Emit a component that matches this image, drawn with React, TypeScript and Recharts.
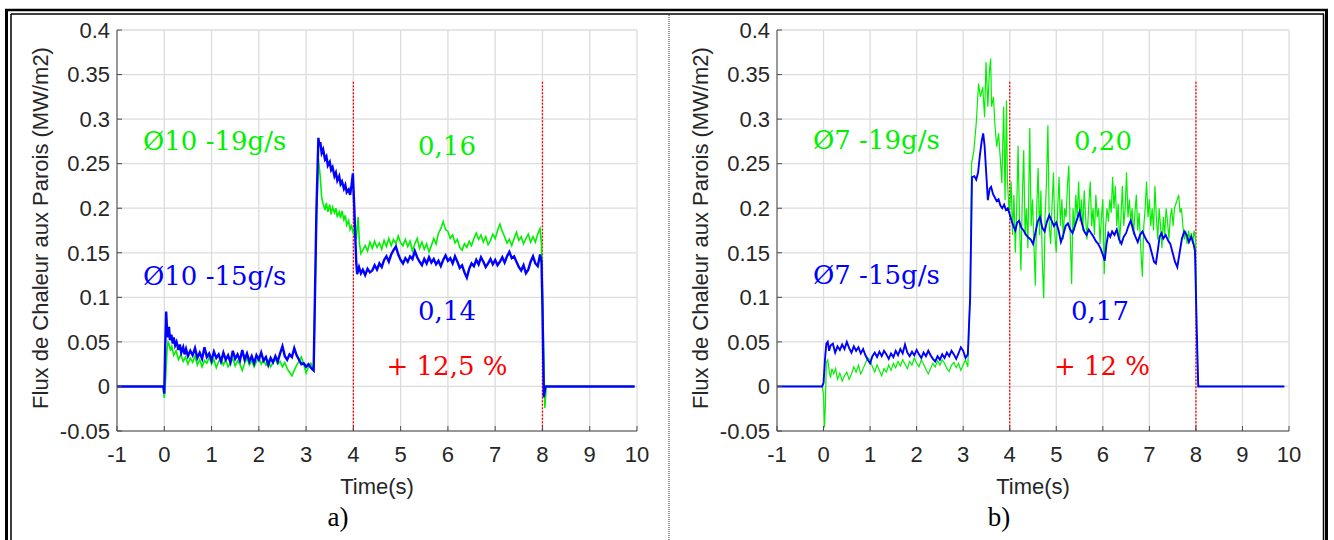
import { LineChart, Line, XAxis, YAxis, CartesianGrid, ReferenceLine } from 'recharts';

type Pt = [number, number];

const xTicks = [-1, 0, 1, 2, 3, 4, 5, 6, 7, 8, 9, 10];
const yTicks = [-0.05, 0, 0.05, 0.1, 0.15, 0.2, 0.25, 0.3, 0.35, 0.4];
const markerTimes = [4, 8];
const markerTop = 0.342;

// a) Ø10 - 19 g/s (green)
const panelAGreen: Pt[] = [
  [-1, 0], [-0.02, 0], [0, -0.013], [0.03, 0.01], [0.06, 0.042], [0.08, 0.05], [0.1, 0.048],
  [0.13, 0.04], [0.16, 0.045], [0.2, 0.035], [0.25, 0.04], [0.3, 0.03], [0.35, 0.036], [0.4, 0.028],
  [0.45, 0.033], [0.5, 0.025], [0.55, 0.032], [0.6, 0.027], [0.65, 0.034], [0.7, 0.024], [0.75, 0.03],
  [0.8, 0.022], [0.85, 0.029], [0.9, 0.026], [0.95, 0.033], [1.0, 0.025], [1.05, 0.03], [1.1, 0.021],
  [1.15, 0.028], [1.2, 0.032], [1.25, 0.024], [1.3, 0.03], [1.35, 0.022], [1.4, 0.027], [1.45, 0.031],
  [1.5, 0.023], [1.55, 0.029], [1.6, 0.025], [1.65, 0.018], [1.7, 0.026], [1.75, 0.032], [1.8, 0.024],
  [1.85, 0.029], [1.9, 0.022], [1.95, 0.028], [2.0, 0.033], [2.05, 0.025], [2.1, 0.03], [2.15, 0.024],
  [2.2, 0.029], [2.25, 0.022], [2.3, 0.027], [2.35, 0.031], [2.4, 0.025], [2.45, 0.028], [2.5, 0.022],
  [2.55, 0.027], [2.6, 0.02], [2.65, 0.016], [2.7, 0.012], [2.75, 0.018], [2.8, 0.024], [2.85, 0.028],
  [2.9, 0.033], [2.95, 0.025], [3.0, 0.015], [3.05, 0.022], [3.1, 0.026], [3.16, 0.02], [3.22, 0.19],
  [3.26, 0.256], [3.3, 0.235], [3.33, 0.212], [3.36, 0.205], [3.4, 0.198], [3.43, 0.206], [3.46, 0.196],
  [3.5, 0.204], [3.53, 0.193], [3.56, 0.201], [3.6, 0.195], [3.63, 0.2], [3.66, 0.19], [3.7, 0.196],
  [3.73, 0.189], [3.76, 0.197], [3.8, 0.187], [3.83, 0.192], [3.86, 0.181], [3.9, 0.186], [3.93, 0.176],
  [3.96, 0.18], [4.0, 0.172], [4.03, 0.178], [4.06, 0.165], [4.1, 0.19], [4.13, 0.16], [4.16, 0.149],
  [4.2, 0.153], [4.25, 0.158], [4.3, 0.152], [4.35, 0.162], [4.4, 0.155], [4.45, 0.163], [4.5, 0.156],
  [4.55, 0.161], [4.6, 0.154], [4.65, 0.164], [4.7, 0.157], [4.75, 0.166], [4.8, 0.158], [4.85, 0.165],
  [4.9, 0.16], [4.95, 0.169], [5.0, 0.161], [5.05, 0.158], [5.1, 0.165], [5.15, 0.157], [5.2, 0.163],
  [5.25, 0.152], [5.3, 0.16], [5.35, 0.166], [5.4, 0.155], [5.45, 0.162], [5.5, 0.154], [5.55, 0.16],
  [5.6, 0.151], [5.65, 0.158], [5.7, 0.166], [5.75, 0.16], [5.8, 0.172], [5.85, 0.177], [5.9, 0.185],
  [5.95, 0.176], [6.0, 0.174], [6.05, 0.166], [6.1, 0.17], [6.15, 0.161], [6.2, 0.165], [6.25, 0.156],
  [6.3, 0.153], [6.35, 0.16], [6.4, 0.156], [6.45, 0.163], [6.5, 0.158], [6.55, 0.166], [6.6, 0.172],
  [6.65, 0.165], [6.7, 0.17], [6.75, 0.162], [6.8, 0.168], [6.85, 0.159], [6.9, 0.164], [6.95, 0.171],
  [7.0, 0.166], [7.05, 0.175], [7.1, 0.182], [7.15, 0.174], [7.2, 0.168], [7.25, 0.161], [7.3, 0.165],
  [7.35, 0.158], [7.4, 0.166], [7.45, 0.173], [7.5, 0.164], [7.55, 0.168], [7.6, 0.16], [7.65, 0.166],
  [7.7, 0.171], [7.75, 0.162], [7.8, 0.168], [7.85, 0.162], [7.9, 0.171], [7.95, 0.177], [7.98, 0.16],
  [8.02, 0.05], [8.05, -0.024], [8.08, 0], [9.95, 0],
];

// a) Ø10 - 15 g/s (blue)
const panelABlue: Pt[] = [
  [-1, 0], [-0.02, 0], [0, -0.008], [0.02, 0.045], [0.04, 0.084], [0.06, 0.062], [0.08, 0.055],
  [0.1, 0.067], [0.12, 0.052], [0.15, 0.058], [0.18, 0.048], [0.2, 0.055], [0.23, 0.046], [0.26, 0.05],
  [0.3, 0.041], [0.33, 0.047], [0.36, 0.038], [0.4, 0.044], [0.43, 0.036], [0.46, 0.042], [0.5, 0.034],
  [0.55, 0.04], [0.6, 0.035], [0.65, 0.043], [0.7, 0.032], [0.75, 0.038], [0.8, 0.031], [0.85, 0.044],
  [0.9, 0.033], [0.95, 0.037], [1.0, 0.029], [1.05, 0.039], [1.1, 0.032], [1.15, 0.036], [1.2, 0.028],
  [1.25, 0.038], [1.3, 0.03], [1.35, 0.035], [1.4, 0.027], [1.45, 0.04], [1.5, 0.031], [1.55, 0.036],
  [1.6, 0.029], [1.65, 0.041], [1.7, 0.03], [1.75, 0.037], [1.8, 0.028], [1.85, 0.034], [1.9, 0.026],
  [1.95, 0.035], [2.0, 0.03], [2.05, 0.038], [2.1, 0.029], [2.15, 0.033], [2.2, 0.024], [2.25, 0.032],
  [2.3, 0.027], [2.35, 0.034], [2.4, 0.028], [2.45, 0.037], [2.5, 0.045], [2.55, 0.034], [2.6, 0.03],
  [2.65, 0.036], [2.7, 0.033], [2.75, 0.043], [2.8, 0.035], [2.85, 0.03], [2.9, 0.025], [2.95, 0.026],
  [3.0, 0.022], [3.05, 0.025], [3.1, 0.021], [3.16, 0.018], [3.22, 0.2], [3.26, 0.279], [3.28, 0.27],
  [3.3, 0.274], [3.33, 0.262], [3.36, 0.266], [3.4, 0.255], [3.43, 0.258], [3.46, 0.248], [3.5, 0.252],
  [3.53, 0.243], [3.56, 0.246], [3.6, 0.236], [3.63, 0.24], [3.66, 0.231], [3.7, 0.236], [3.73, 0.227],
  [3.76, 0.23], [3.8, 0.222], [3.83, 0.226], [3.86, 0.218], [3.9, 0.221], [3.93, 0.215], [3.96, 0.225],
  [3.99, 0.239], [4.02, 0.2], [4.06, 0.14], [4.08, 0.126], [4.12, 0.134], [4.16, 0.127], [4.2, 0.131],
  [4.25, 0.125], [4.3, 0.132], [4.35, 0.128], [4.4, 0.13], [4.45, 0.136], [4.5, 0.131], [4.55, 0.138],
  [4.6, 0.134], [4.65, 0.142], [4.7, 0.146], [4.75, 0.14], [4.8, 0.148], [4.85, 0.153], [4.9, 0.157],
  [4.95, 0.148], [5.0, 0.142], [5.05, 0.138], [5.1, 0.144], [5.15, 0.14], [5.2, 0.146], [5.25, 0.143],
  [5.3, 0.152], [5.35, 0.145], [5.4, 0.14], [5.45, 0.136], [5.5, 0.143], [5.55, 0.138], [5.6, 0.145],
  [5.65, 0.139], [5.7, 0.143], [5.75, 0.137], [5.8, 0.141], [5.85, 0.135], [5.9, 0.142], [5.95, 0.147],
  [6.0, 0.141], [6.05, 0.144], [6.1, 0.138], [6.15, 0.146], [6.2, 0.14], [6.25, 0.133], [6.3, 0.136],
  [6.35, 0.128], [6.4, 0.122], [6.45, 0.132], [6.5, 0.138], [6.55, 0.135], [6.6, 0.142], [6.65, 0.137],
  [6.7, 0.145], [6.75, 0.14], [6.8, 0.134], [6.85, 0.138], [6.9, 0.143], [6.95, 0.137], [7.0, 0.142],
  [7.05, 0.136], [7.1, 0.14], [7.15, 0.145], [7.2, 0.139], [7.25, 0.146], [7.3, 0.151], [7.35, 0.144],
  [7.4, 0.146], [7.45, 0.14], [7.5, 0.134], [7.55, 0.13], [7.6, 0.136], [7.65, 0.127], [7.7, 0.131],
  [7.75, 0.14], [7.8, 0.146], [7.85, 0.138], [7.9, 0.135], [7.95, 0.148], [7.98, 0.14], [8.0, 0.09],
  [8.03, -0.012], [8.06, 0], [9.95, 0],
];

// b) Ø7 - 19 g/s (green)
const panelBGreen: Pt[] = [
  [-1, 0], [-0.03, 0], [0, -0.01], [0.02, -0.046], [0.04, -0.02], [0.06, 0.027], [0.09, 0.03],
  [0.12, 0.018], [0.15, 0.01], [0.18, 0.02], [0.22, 0.014], [0.26, 0.02], [0.3, 0.008], [0.35, 0.015],
  [0.4, 0.006], [0.45, 0.012], [0.5, 0.016], [0.55, 0.008], [0.6, 0.014], [0.65, 0.022], [0.7, 0.016],
  [0.75, 0.024], [0.8, 0.014], [0.85, 0.02], [0.9, 0.026], [0.95, 0.032], [1.0, 0.03], [1.05, 0.022],
  [1.1, 0.016], [1.15, 0.024], [1.2, 0.018], [1.25, 0.012], [1.3, 0.02], [1.35, 0.016], [1.4, 0.024],
  [1.45, 0.018], [1.5, 0.026], [1.55, 0.021], [1.6, 0.028], [1.65, 0.023], [1.7, 0.03], [1.75, 0.025],
  [1.8, 0.02], [1.85, 0.028], [1.9, 0.024], [1.95, 0.032], [2.0, 0.026], [2.05, 0.022], [2.1, 0.03],
  [2.15, 0.025], [2.2, 0.019], [2.25, 0.014], [2.3, 0.02], [2.35, 0.026], [2.4, 0.022], [2.45, 0.029],
  [2.5, 0.024], [2.55, 0.03], [2.6, 0.026], [2.65, 0.02], [2.7, 0.017], [2.75, 0.024], [2.8, 0.027],
  [2.85, 0.021], [2.9, 0.026], [2.95, 0.018], [3.0, 0.024], [3.05, 0.03], [3.1, 0.022], [3.15, 0.11],
  [3.18, 0.25], [3.23, 0.265], [3.28, 0.295], [3.33, 0.34], [3.37, 0.325], [3.42, 0.336], [3.46, 0.302],
  [3.49, 0.364], [3.53, 0.314], [3.56, 0.351], [3.59, 0.368], [3.61, 0.314], [3.65, 0.325], [3.68, 0.295],
  [3.72, 0.269], [3.76, 0.284], [3.8, 0.254], [3.83, 0.228], [3.87, 0.314], [3.9, 0.209], [3.93, 0.321],
  [3.95, 0.231], [3.98, 0.202], [4.0, 0.2], [4.03, 0.23], [4.06, 0.17], [4.09, 0.215], [4.12, 0.15],
  [4.15, 0.2], [4.18, 0.27], [4.21, 0.185], [4.24, 0.13], [4.27, 0.21], [4.3, 0.265], [4.33, 0.17],
  [4.36, 0.2], [4.39, 0.155], [4.43, 0.29], [4.46, 0.18], [4.49, 0.21], [4.52, 0.16], [4.55, 0.113],
  [4.58, 0.2], [4.61, 0.245], [4.64, 0.17], [4.67, 0.22], [4.7, 0.14], [4.73, 0.099], [4.76, 0.19],
  [4.79, 0.23], [4.82, 0.293], [4.85, 0.18], [4.88, 0.16], [4.91, 0.205], [4.94, 0.24], [4.97, 0.17],
  [5.0, 0.15], [5.03, 0.2], [5.06, 0.235], [5.09, 0.18], [5.12, 0.21], [5.15, 0.165], [5.18, 0.2],
  [5.21, 0.19], [5.24, 0.225], [5.27, 0.248], [5.3, 0.17], [5.33, 0.115], [5.36, 0.2], [5.39, 0.175],
  [5.42, 0.215], [5.45, 0.19], [5.48, 0.23], [5.51, 0.185], [5.54, 0.21], [5.57, 0.175], [5.6, 0.22],
  [5.63, 0.19], [5.66, 0.165], [5.7, 0.205], [5.73, 0.23], [5.76, 0.18], [5.79, 0.2], [5.82, 0.17],
  [5.85, 0.215], [5.88, 0.19], [5.91, 0.2], [5.94, 0.16], [5.97, 0.19], [6.0, 0.21], [6.03, 0.126],
  [6.06, 0.18], [6.09, 0.2], [6.12, 0.185], [6.15, 0.21], [6.18, 0.195], [6.21, 0.235], [6.24, 0.2],
  [6.27, 0.225], [6.3, 0.18], [6.33, 0.205], [6.36, 0.16], [6.39, 0.19], [6.42, 0.225], [6.45, 0.18],
  [6.48, 0.2], [6.51, 0.24], [6.54, 0.19], [6.57, 0.21], [6.6, 0.185], [6.63, 0.2], [6.66, 0.17],
  [6.69, 0.195], [6.72, 0.215], [6.75, 0.175], [6.78, 0.195], [6.81, 0.16], [6.85, 0.123], [6.88, 0.18],
  [6.91, 0.2], [6.94, 0.23], [6.97, 0.19], [7.0, 0.21], [7.03, 0.18], [7.06, 0.2], [7.09, 0.175],
  [7.12, 0.225], [7.15, 0.19], [7.18, 0.165], [7.21, 0.2], [7.24, 0.18], [7.27, 0.155], [7.3, 0.19],
  [7.33, 0.17], [7.36, 0.2], [7.39, 0.185], [7.42, 0.165], [7.45, 0.19], [7.48, 0.2], [7.51, 0.18],
  [7.54, 0.2], [7.57, 0.205], [7.6, 0.21], [7.63, 0.215], [7.66, 0.195], [7.69, 0.2], [7.72, 0.18],
  [7.75, 0.165], [7.78, 0.175], [7.81, 0.16], [7.84, 0.175], [7.87, 0.165], [7.9, 0.172], [7.93, 0.16],
  [7.96, 0.175], [7.99, 0.165], [8.02, 0.05], [8.05, 0.002], [8.08, 0], [9.9, 0],
];

// b) Ø7 - 15 g/s (blue)
const panelBBlue: Pt[] = [
  [-1, 0], [-0.03, 0], [0, 0.004], [0.03, 0.03], [0.06, 0.048], [0.09, 0.05], [0.12, 0.04],
  [0.15, 0.046], [0.2, 0.048], [0.25, 0.038], [0.3, 0.045], [0.35, 0.041], [0.4, 0.047], [0.45, 0.042],
  [0.5, 0.05], [0.55, 0.043], [0.6, 0.038], [0.65, 0.045], [0.7, 0.04], [0.75, 0.044], [0.8, 0.037],
  [0.85, 0.042], [0.9, 0.035], [0.95, 0.03], [1.0, 0.026], [1.05, 0.034], [1.1, 0.038], [1.15, 0.033],
  [1.2, 0.039], [1.25, 0.034], [1.3, 0.04], [1.35, 0.036], [1.4, 0.031], [1.45, 0.037], [1.5, 0.033],
  [1.55, 0.04], [1.6, 0.035], [1.65, 0.042], [1.7, 0.037], [1.75, 0.047], [1.8, 0.038], [1.85, 0.034],
  [1.9, 0.039], [1.95, 0.035], [2.0, 0.041], [2.05, 0.036], [2.1, 0.032], [2.15, 0.038], [2.2, 0.034],
  [2.25, 0.04], [2.3, 0.035], [2.35, 0.031], [2.4, 0.028], [2.45, 0.034], [2.5, 0.03], [2.55, 0.036],
  [2.6, 0.032], [2.65, 0.038], [2.7, 0.034], [2.75, 0.04], [2.8, 0.036], [2.85, 0.031], [2.9, 0.037],
  [2.95, 0.044], [3.0, 0.04], [3.05, 0.032], [3.1, 0.036], [3.15, 0.1], [3.19, 0.235], [3.24, 0.236],
  [3.28, 0.232], [3.32, 0.24], [3.36, 0.26], [3.4, 0.276], [3.43, 0.284], [3.46, 0.27], [3.5, 0.235],
  [3.53, 0.209], [3.57, 0.222], [3.6, 0.224], [3.64, 0.216], [3.68, 0.212], [3.72, 0.208], [3.76, 0.21],
  [3.8, 0.203], [3.84, 0.2], [3.88, 0.204], [3.92, 0.198], [3.96, 0.2], [4.0, 0.193], [4.04, 0.186],
  [4.08, 0.18], [4.12, 0.175], [4.16, 0.184], [4.2, 0.186], [4.25, 0.178], [4.3, 0.175], [4.35, 0.17],
  [4.4, 0.167], [4.45, 0.165], [4.5, 0.16], [4.55, 0.172], [4.6, 0.185], [4.65, 0.19], [4.7, 0.178],
  [4.75, 0.174], [4.8, 0.185], [4.85, 0.192], [4.9, 0.186], [4.95, 0.18], [5.0, 0.184], [5.05, 0.175],
  [5.1, 0.162], [5.15, 0.17], [5.2, 0.18], [5.25, 0.183], [5.3, 0.176], [5.35, 0.172], [5.4, 0.18],
  [5.45, 0.188], [5.5, 0.196], [5.55, 0.183], [5.6, 0.174], [5.65, 0.17], [5.7, 0.176], [5.75, 0.172],
  [5.8, 0.168], [5.85, 0.163], [5.9, 0.16], [5.95, 0.155], [6.0, 0.148], [6.04, 0.141], [6.08, 0.16],
  [6.12, 0.172], [6.16, 0.168], [6.2, 0.174], [6.25, 0.17], [6.3, 0.176], [6.35, 0.165], [6.4, 0.16],
  [6.45, 0.168], [6.5, 0.172], [6.55, 0.18], [6.6, 0.186], [6.65, 0.176], [6.7, 0.168], [6.75, 0.162],
  [6.8, 0.17], [6.85, 0.174], [6.9, 0.168], [6.95, 0.163], [7.0, 0.16], [7.05, 0.15], [7.1, 0.14],
  [7.14, 0.138], [7.18, 0.152], [7.22, 0.168], [7.26, 0.172], [7.3, 0.166], [7.35, 0.17], [7.4, 0.164],
  [7.45, 0.16], [7.5, 0.15], [7.55, 0.14], [7.6, 0.134], [7.65, 0.15], [7.7, 0.166], [7.75, 0.174],
  [7.8, 0.17], [7.85, 0.162], [7.9, 0.168], [7.95, 0.16], [7.98, 0.152], [8.02, 0.06], [8.05, 0],
  [9.9, 0],
];

const toPts = (arr: Pt[]) => arr.map(([t, v]) => ({ t, v }));

const SANS = '"Liberation Sans", Arial, sans-serif';
const SERIF = '"DejaVu Serif", serif';
const AXIS = '#262626';
const GREEN = '#00f000';
const BLUE = '#0000ff';

function Panel({
  left,
  width,
  green,
  blue,
  greenWidth,
  blueWidth,
}: {
  left: number;
  width: number;
  green: Pt[];
  blue: Pt[];
  greenWidth: number;
  blueWidth: number;
}) {
  const tickStyle = { fill: AXIS, fontSize: 22, fontFamily: SANS };
  return (
    <div style={{ position: 'absolute', left, top: 10 }}>
      <LineChart width={width} height={491} margin={{ top: 20, right: 15, bottom: 0, left: 0 }}>
        <CartesianGrid stroke="#dcdcdc" strokeWidth={1.3} />
        <XAxis
          type="number"
          dataKey="t"
          domain={[-1, 10]}
          ticks={xTicks}
          interval={0}
          allowDataOverflow
          height={70}
          tickSize={-5}
          tickMargin={20}
          stroke="#4a4a4a"
          tick={tickStyle}
        />
        <YAxis
          type="number"
          domain={[-0.05, 0.4]}
          ticks={yTicks}
          interval={0}
          allowDataOverflow
          width={117}
          tickSize={-5}
          tickMargin={12}
          stroke="#4a4a4a"
          tick={tickStyle}
        />
        {markerTimes.map((t) => (
          <ReferenceLine
            key={t}
            segment={[
              { x: t, y: markerTop },
              { x: t, y: -0.05 },
            ]}
            stroke="#ff0000"
            strokeWidth={1.3}
            strokeDasharray="2 1.5"
          />
        ))}
        <Line
          data={toPts(green)}
          dataKey="v"
          type="linear"
          stroke={GREEN}
          strokeWidth={greenWidth}
          dot={false}
          isAnimationActive={false}
        />
        <Line
          data={toPts(blue)}
          dataKey="v"
          type="linear"
          stroke={BLUE}
          strokeWidth={blueWidth}
          dot={false}
          isAnimationActive={false}
        />
      </LineChart>
    </div>
  );
}

export default function App() {
  const yLabel = 'Flux de Chaleur aux Parois (MW/m2)';
  return (
    <div
      style={{
        position: 'absolute',
        left: 0,
        top: 0,
        width: 1334,
        height: 540,
        background: '#fff',
        overflow: 'hidden',
      }}
    >
      <Panel left={0} width={652} green={panelAGreen} blue={panelABlue} greenWidth={1.6} blueWidth={2.4} />
      <Panel left={660} width={644} green={panelBGreen} blue={panelBBlue} greenWidth={1.2} blueWidth={1.9} />

      <svg
        width={1334}
        height={540}
        style={{ position: 'absolute', left: 0, top: 0, pointerEvents: 'none' }}
      >
        {/* frame */}
        <line x1={6.5} y1={10} x2={6.5} y2={540} stroke="#000" strokeWidth={3} />
        <line x1={5} y1={10} x2={1328} y2={10} stroke="#000" strokeWidth={2.5} />
        <line x1={1326.5} y1={10} x2={1326.5} y2={540} stroke="#000" strokeWidth={3} />
        <line x1={11} y1={14} x2={11} y2={540} stroke="#000" strokeWidth={1.5} />
        <line x1={11} y1={14} x2={1324} y2={14} stroke="#000" strokeWidth={1.5} />
        <line x1={1323.5} y1={14} x2={1323.5} y2={540} stroke="#000" strokeWidth={1.5} />
        <line x1={669} y1={15} x2={669} y2={540} stroke="#333" strokeWidth={1} strokeDasharray="1 1" />

        {/* axis titles */}
        <text
          x={40}
          y={228}
          transform="rotate(-90 40 228)"
          textAnchor="middle"
          dominantBaseline="central"
          fontFamily={SANS}
          fontSize={22}
          fill={AXIS}
        >
          {yLabel}
        </text>
        <text
          x={700}
          y={228}
          transform="rotate(-90 700 228)"
          textAnchor="middle"
          dominantBaseline="central"
          fontFamily={SANS}
          fontSize={22}
          fill={AXIS}
        >
          {yLabel}
        </text>
        <text x={377} y={494} textAnchor="middle" fontFamily={SANS} fontSize={22} fill={AXIS}>
          Time(s)
        </text>
        <text x={1033} y={494} textAnchor="middle" fontFamily={SANS} fontSize={22} fill={AXIS}>
          Time(s)
        </text>

        {/* panel a annotations */}
        <g fontFamily={SERIF} fontSize={26}>
          <text x={143} y={150} fill={GREEN}>Ø10 -19g/s</text>
          <text x={143} y={285} fill={BLUE}>Ø10 -15g/s</text>
          <text x={447} y={155} fill={GREEN} textAnchor="middle">0,16</text>
          <text x={447} y={320} fill={BLUE} textAnchor="middle">0,14</text>
          <text x={447} y={375} fill="#ff0000" textAnchor="middle">+ 12,5 %</text>

          <text x={813} y={149} fill={GREEN}>Ø7 -19g/s</text>
          <text x={813} y={284} fill={BLUE}>Ø7 -15g/s</text>
          <text x={1103} y={150} fill={GREEN} textAnchor="middle">0,20</text>
          <text x={1100} y={320} fill={BLUE} textAnchor="middle">0,17</text>
          <text x={1102} y={375} fill="#ff0000" textAnchor="middle">+ 12 %</text>
        </g>

        {/* captions */}
        <text x={338} y={526} textAnchor="middle" fontFamily='"Liberation Serif", serif' fontSize={27} fill="#000">
          a)
        </text>
        <text x={999} y={526} textAnchor="middle" fontFamily='"Liberation Serif", serif' fontSize={27} fill="#000">
          b)
        </text>
      </svg>
    </div>
  );
}
